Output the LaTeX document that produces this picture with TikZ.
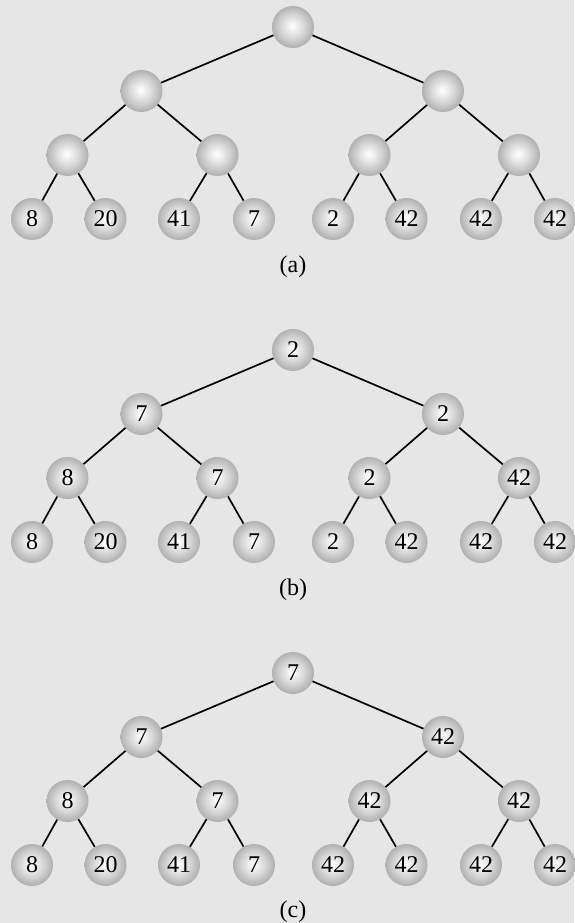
\documentclass[tikz,border=0pt]{standalone}
\usepackage{fontspec}
\setmainfont{Liberation Serif}
\usepackage{xcolor}

\definecolor{bggray}{HTML}{E6E6E6}
\definecolor{ballrim}{HTML}{B0B0B0}
\definecolor{ballmid}{HTML}{D6D6D6}
\definecolor{balltop}{HTML}{F7F7F7}
\pgfdeclareradialshading{ballshade}{\pgfpoint{-1bp}{1bp}}{%
    color(0bp)=(white); color(3bp)=(balltop);
    color(14bp)=(ballmid); color(25bp)=(ballrim); color(50bp)=(ballrim)}

\begin{document}
\begin{tikzpicture}[
    x=1pt, y=-1pt,
    ball/.style={
        circle,
        shade,
        shading=ballshade,
        minimum size=42pt,
        inner sep=0pt,
        font=\fontsize{24}{28}\selectfont
    },
    caption/.style={
        font=\fontsize{24}{28}\selectfont
    },
    edge/.style={line width=1.7pt}
]

\useasboundingbox (0,0) rectangle (574,923);
\fill[bggray] (0,0) rectangle (574,923);

% (a) empty internal nodes
\begin{scope}
\node[ball] (a1) at (293,27) {};
\node[ball] (a2) at (141.5,91) {};
\node[ball] (a3) at (443,91) {};
\node[ball] (a4) at (67.5,155) {};
\node[ball] (a5) at (217.5,155) {};
\node[ball] (a6) at (369.5,155) {};
\node[ball] (a7) at (519,155) {};
\node[ball] (a8) at (32,219) {8};
\node[ball] (a9) at (105.5,219) {20};
\node[ball] (a10) at (179,219) {41};
\node[ball] (a11) at (254,219) {7};
\node[ball] (a12) at (333,219) {2};
\node[ball] (a13) at (406.5,219) {42};
\node[ball] (a14) at (481,219) {42};
\node[ball] (a15) at (555,219) {42};
\node[caption] (la) at (293,267) {(a)};
\end{scope}

% (b)
\begin{scope}[shift={(0,323)}]
\node[ball] (b1) at (293,27) {2};
\node[ball] (b2) at (141.5,91) {7};
\node[ball] (b3) at (443,91) {2};
\node[ball] (b4) at (67.5,155) {8};
\node[ball] (b5) at (217.5,155) {7};
\node[ball] (b6) at (369.5,155) {2};
\node[ball] (b7) at (519,155) {42};
\node[ball] (b8) at (32,219) {8};
\node[ball] (b9) at (105.5,219) {20};
\node[ball] (b10) at (179,219) {41};
\node[ball] (b11) at (254,219) {7};
\node[ball] (b12) at (333,219) {2};
\node[ball] (b13) at (406.5,219) {42};
\node[ball] (b14) at (481,219) {42};
\node[ball] (b15) at (555,219) {42};
\node[caption] (lb) at (293,267) {(b)};
\end{scope}

% (c)
\begin{scope}[shift={(0,646)}]
\node[ball] (c1) at (293,27) {7};
\node[ball] (c2) at (141.5,91) {7};
\node[ball] (c3) at (443,91) {42};
\node[ball] (c4) at (67.5,155) {8};
\node[ball] (c5) at (217.5,155) {7};
\node[ball] (c6) at (369.5,155) {42};
\node[ball] (c7) at (519,155) {42};
\node[ball] (c8) at (32,219) {8};
\node[ball] (c9) at (105.5,219) {20};
\node[ball] (c10) at (179,219) {41};
\node[ball] (c11) at (254,219) {7};
\node[ball] (c12) at (333,219) {42};
\node[ball] (c13) at (406.5,219) {42};
\node[ball] (c14) at (481,219) {42};
\node[ball] (c15) at (555,219) {42};
\node[caption] (lc) at (293,266) {(c)};
\end{scope}

% parent -> children
\foreach \t in {a,b,c}{
    \foreach \p [evaluate=\p as \l using int(2*\p),
                 evaluate=\p as \r using int(2*\p+1)] in {1,...,7}{
        \draw[edge] (\t\p) -- (\t\l);
        \draw[edge] (\t\p) -- (\t\r);
    }
}

\end{tikzpicture}
\end{document}
